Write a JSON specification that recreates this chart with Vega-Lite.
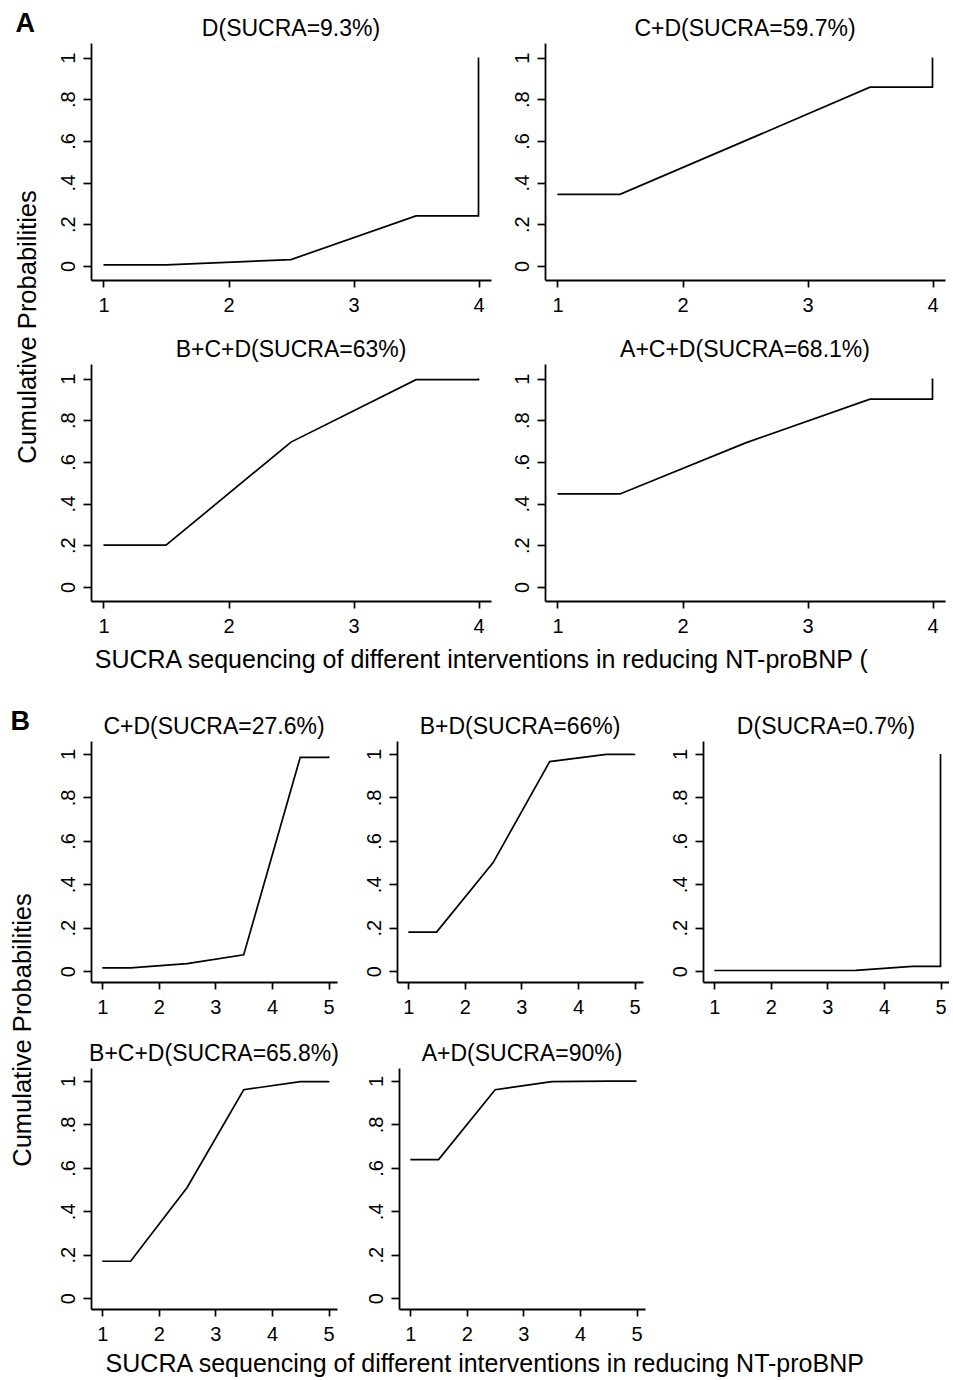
{
  "$schema": "https://vega.github.io/schema/vega-lite/v6.json",
  "padding": {"left": 10, "top": 10, "right": 0, "bottom": 0},
  "config": {
    "font": "Liberation Sans",
    "view": {"stroke": null},
    "axis": {"domainColor": "black", "domainWidth": 1.8, "tickColor": "black", "tickWidth": 1.7, "labelColor": "black", "labelFont": "Liberation Sans", "labelFontSize": 20, "grid": false},
    "title": {"font": "Liberation Sans", "fontSize": 23, "fontWeight": "normal", "color": "black"},
    "line": {"color": "black", "strokeWidth": 1.7}
  },
  "datasets": {
    "sucra": [
      {"panel": "A1", "step": 1, "rank": 1, "prob": 0.005},
      {"panel": "A1", "step": 2, "rank": 1.5, "prob": 0.005},
      {"panel": "A1", "step": 3, "rank": 2.5, "prob": 0.03},
      {"panel": "A1", "step": 4, "rank": 3.5, "prob": 0.24},
      {"panel": "A1", "step": 5, "rank": 4, "prob": 0.24},
      {"panel": "A1", "step": 6, "rank": 4, "prob": 1},
      {"panel": "A2", "step": 1, "rank": 1, "prob": 0.343},
      {"panel": "A2", "step": 2, "rank": 1.5, "prob": 0.343},
      {"panel": "A2", "step": 3, "rank": 2.5, "prob": 0.6},
      {"panel": "A2", "step": 4, "rank": 3.5, "prob": 0.858},
      {"panel": "A2", "step": 5, "rank": 4, "prob": 0.858},
      {"panel": "A2", "step": 6, "rank": 4, "prob": 1},
      {"panel": "A3", "step": 1, "rank": 1, "prob": 0.2},
      {"panel": "A3", "step": 2, "rank": 1.5, "prob": 0.2},
      {"panel": "A3", "step": 3, "rank": 2.5, "prob": 0.695},
      {"panel": "A3", "step": 4, "rank": 3.5, "prob": 0.995},
      {"panel": "A3", "step": 5, "rank": 4, "prob": 0.995},
      {"panel": "A3", "step": 6, "rank": 4, "prob": 1},
      {"panel": "A4", "step": 1, "rank": 1, "prob": 0.446},
      {"panel": "A4", "step": 2, "rank": 1.5, "prob": 0.446},
      {"panel": "A4", "step": 3, "rank": 2.5, "prob": 0.69},
      {"panel": "A4", "step": 4, "rank": 3.5, "prob": 0.901},
      {"panel": "A4", "step": 5, "rank": 4, "prob": 0.901},
      {"panel": "A4", "step": 6, "rank": 4, "prob": 1},
      {"panel": "B1", "step": 1, "rank": 1, "prob": 0.015},
      {"panel": "B1", "step": 2, "rank": 1.5, "prob": 0.015},
      {"panel": "B1", "step": 3, "rank": 2.5, "prob": 0.035},
      {"panel": "B1", "step": 4, "rank": 3.5, "prob": 0.075},
      {"panel": "B1", "step": 5, "rank": 4.5, "prob": 0.985},
      {"panel": "B1", "step": 6, "rank": 5, "prob": 0.985},
      {"panel": "B1", "step": 7, "rank": 5, "prob": 0.99},
      {"panel": "B2", "step": 1, "rank": 1, "prob": 0.18},
      {"panel": "B2", "step": 2, "rank": 1.5, "prob": 0.18},
      {"panel": "B2", "step": 3, "rank": 2.5, "prob": 0.5},
      {"panel": "B2", "step": 4, "rank": 3.5, "prob": 0.965},
      {"panel": "B2", "step": 5, "rank": 4.5, "prob": 0.998},
      {"panel": "B2", "step": 6, "rank": 5, "prob": 0.998},
      {"panel": "B2", "step": 7, "rank": 5, "prob": 1},
      {"panel": "B3", "step": 1, "rank": 1, "prob": 0.003},
      {"panel": "B3", "step": 2, "rank": 1.5, "prob": 0.003},
      {"panel": "B3", "step": 3, "rank": 2.5, "prob": 0.003},
      {"panel": "B3", "step": 4, "rank": 3.5, "prob": 0.004},
      {"panel": "B3", "step": 5, "rank": 4.5, "prob": 0.022},
      {"panel": "B3", "step": 6, "rank": 5, "prob": 0.022},
      {"panel": "B3", "step": 7, "rank": 5, "prob": 1},
      {"panel": "B4", "step": 1, "rank": 1, "prob": 0.17},
      {"panel": "B4", "step": 2, "rank": 1.5, "prob": 0.17},
      {"panel": "B4", "step": 3, "rank": 2.5, "prob": 0.51},
      {"panel": "B4", "step": 4, "rank": 3.5, "prob": 0.96},
      {"panel": "B4", "step": 5, "rank": 4.5, "prob": 0.997},
      {"panel": "B4", "step": 6, "rank": 5, "prob": 0.997},
      {"panel": "B4", "step": 7, "rank": 5, "prob": 1},
      {"panel": "B5", "step": 1, "rank": 1, "prob": 0.638},
      {"panel": "B5", "step": 2, "rank": 1.5, "prob": 0.638},
      {"panel": "B5", "step": 3, "rank": 2.5, "prob": 0.96},
      {"panel": "B5", "step": 4, "rank": 3.5, "prob": 0.997},
      {"panel": "B5", "step": 5, "rank": 4.5, "prob": 1},
      {"panel": "B5", "step": 6, "rank": 5, "prob": 1}
    ]
  },
  "vconcat": [
    {
      "title": {"text": "A", "anchor": "start", "fontSize": 27, "fontWeight": "bold", "offset": -20},
      "vconcat": [{
        "title": {"text": "SUCRA sequencing of different interventions in reducing NT-proBNP (", "orient": "bottom", "anchor": "middle", "fontSize": 25, "offset": 12, "dx": 1},
        "vconcat": [{
          "title": {"text": "Cumulative Probabilities", "orient": "left", "anchor": "middle", "fontSize": 25.5, "offset": 17},
          "spacing": 24,
          "vconcat": [
            {"spacing": 20, "hconcat": [
              {"title": {"text": "D(SUCRA=9.3%)", "frame": "group", "offset": 2}, "width": 400, "height": 237,
               "data": {"name": "sucra"}, "transform": [{"filter": "datum.panel === 'A1'"}], "mark": "line",
               "encoding": {
                 "x": {"field": "rank", "type": "quantitative", "scale": {"domain": [0.9, 4.1], "nice": false, "zero": false}, "axis": {"values": [1, 2, 3, 4], "tickSize": 7, "labelPadding": 8, "title": null}},
                 "y": {"field": "prob", "type": "quantitative", "scale": {"domain": [-0.068, 1.07], "nice": false, "zero": false}, "axis": {"values": [0, 0.2, 0.4, 0.6, 0.8, 1], "labelAngle": -90, "tickSize": 8, "labelPadding": 5, "title": null, "labelExpr": "datum.value == 0 ? '0' : datum.value == 1 ? '1' : '.' + round(datum.value * 10)"}},
                 "order": {"field": "step"}}},
              {"title": {"text": "C+D(SUCRA=59.7%)", "frame": "group", "offset": 2}, "width": 400, "height": 237,
               "data": {"name": "sucra"}, "transform": [{"filter": "datum.panel === 'A2'"}], "mark": "line",
               "encoding": {
                 "x": {"field": "rank", "type": "quantitative", "scale": {"domain": [0.9, 4.1], "nice": false, "zero": false}, "axis": {"values": [1, 2, 3, 4], "tickSize": 7, "labelPadding": 8, "title": null}},
                 "y": {"field": "prob", "type": "quantitative", "scale": {"domain": [-0.068, 1.07], "nice": false, "zero": false}, "axis": {"values": [0, 0.2, 0.4, 0.6, 0.8, 1], "labelAngle": -90, "tickSize": 8, "labelPadding": 5, "title": null, "labelExpr": "datum.value == 0 ? '0' : datum.value == 1 ? '1' : '.' + round(datum.value * 10)"}},
                 "order": {"field": "step"}}}
            ]},
            {"spacing": 20, "hconcat": [
              {"title": {"text": "B+C+D(SUCRA=63%)", "frame": "group", "offset": 2}, "width": 400, "height": 237,
               "data": {"name": "sucra"}, "transform": [{"filter": "datum.panel === 'A3'"}], "mark": "line",
               "encoding": {
                 "x": {"field": "rank", "type": "quantitative", "scale": {"domain": [0.9, 4.1], "nice": false, "zero": false}, "axis": {"values": [1, 2, 3, 4], "tickSize": 7, "labelPadding": 8, "title": null}},
                 "y": {"field": "prob", "type": "quantitative", "scale": {"domain": [-0.068, 1.07], "nice": false, "zero": false}, "axis": {"values": [0, 0.2, 0.4, 0.6, 0.8, 1], "labelAngle": -90, "tickSize": 8, "labelPadding": 5, "title": null, "labelExpr": "datum.value == 0 ? '0' : datum.value == 1 ? '1' : '.' + round(datum.value * 10)"}},
                 "order": {"field": "step"}}},
              {"title": {"text": "A+C+D(SUCRA=68.1%)", "frame": "group", "offset": 2}, "width": 400, "height": 237,
               "data": {"name": "sucra"}, "transform": [{"filter": "datum.panel === 'A4'"}], "mark": "line",
               "encoding": {
                 "x": {"field": "rank", "type": "quantitative", "scale": {"domain": [0.9, 4.1], "nice": false, "zero": false}, "axis": {"values": [1, 2, 3, 4], "tickSize": 7, "labelPadding": 8, "title": null}},
                 "y": {"field": "prob", "type": "quantitative", "scale": {"domain": [-0.068, 1.07], "nice": false, "zero": false}, "axis": {"values": [0, 0.2, 0.4, 0.6, 0.8, 1], "labelAngle": -90, "tickSize": 8, "labelPadding": 5, "title": null, "labelExpr": "datum.value == 0 ? '0' : datum.value == 1 ? '1' : '.' + round(datum.value * 10)"}},
                 "order": {"field": "step"}}}
            ]}
          ]
        }]
      }]
    },
    {
      "title": {"text": "B", "anchor": "start", "fontSize": 27, "fontWeight": "bold", "offset": -20},
      "vconcat": [{
        "title": {"text": "SUCRA sequencing of different interventions in reducing NT-proBNP", "orient": "bottom", "anchor": "middle", "fontSize": 25, "offset": 8, "dx": 5},
        "vconcat": [{
          "title": {"text": "Cumulative Probabilities", "orient": "left", "anchor": "middle", "fontSize": 25.5, "offset": 22},
          "spacing": 26,
          "vconcat": [
            {"spacing": 27, "hconcat": [
              {"title": {"text": "C+D(SUCRA=27.6%)", "frame": "group", "offset": 2}, "width": 246, "height": 241,
               "data": {"name": "sucra"}, "transform": [{"filter": "datum.panel === 'B1'"}], "mark": "line",
               "encoding": {
                 "x": {"field": "rank", "type": "quantitative", "scale": {"domain": [0.8, 5.15], "nice": false, "zero": false}, "axis": {"values": [1, 2, 3, 4, 5], "tickSize": 7, "labelPadding": 8, "title": null}},
                 "y": {"field": "prob", "type": "quantitative", "scale": {"domain": [-0.05, 1.06], "nice": false, "zero": false}, "axis": {"values": [0, 0.2, 0.4, 0.6, 0.8, 1], "labelAngle": -90, "tickSize": 8, "labelPadding": 5, "title": null, "labelExpr": "datum.value == 0 ? '0' : datum.value == 1 ? '1' : '.' + round(datum.value * 10)"}},
                 "order": {"field": "step"}}},
              {"title": {"text": "B+D(SUCRA=66%)", "frame": "group", "offset": 2}, "width": 246, "height": 241,
               "data": {"name": "sucra"}, "transform": [{"filter": "datum.panel === 'B2'"}], "mark": "line",
               "encoding": {
                 "x": {"field": "rank", "type": "quantitative", "scale": {"domain": [0.8, 5.15], "nice": false, "zero": false}, "axis": {"values": [1, 2, 3, 4, 5], "tickSize": 7, "labelPadding": 8, "title": null}},
                 "y": {"field": "prob", "type": "quantitative", "scale": {"domain": [-0.05, 1.06], "nice": false, "zero": false}, "axis": {"values": [0, 0.2, 0.4, 0.6, 0.8, 1], "labelAngle": -90, "tickSize": 8, "labelPadding": 5, "title": null, "labelExpr": "datum.value == 0 ? '0' : datum.value == 1 ? '1' : '.' + round(datum.value * 10)"}},
                 "order": {"field": "step"}}},
              {"title": {"text": "D(SUCRA=0.7%)", "frame": "group", "offset": 2}, "width": 246, "height": 241,
               "data": {"name": "sucra"}, "transform": [{"filter": "datum.panel === 'B3'"}], "mark": "line",
               "encoding": {
                 "x": {"field": "rank", "type": "quantitative", "scale": {"domain": [0.8, 5.15], "nice": false, "zero": false}, "axis": {"values": [1, 2, 3, 4, 5], "tickSize": 7, "labelPadding": 8, "title": null}},
                 "y": {"field": "prob", "type": "quantitative", "scale": {"domain": [-0.05, 1.06], "nice": false, "zero": false}, "axis": {"values": [0, 0.2, 0.4, 0.6, 0.8, 1], "labelAngle": -90, "tickSize": 8, "labelPadding": 5, "title": null, "labelExpr": "datum.value == 0 ? '0' : datum.value == 1 ? '1' : '.' + round(datum.value * 10)"}},
                 "order": {"field": "step"}}}
            ]},
            {"spacing": 27, "hconcat": [
              {"title": {"text": "B+C+D(SUCRA=65.8%)", "frame": "group", "offset": 2}, "width": 246, "height": 241,
               "data": {"name": "sucra"}, "transform": [{"filter": "datum.panel === 'B4'"}], "mark": "line",
               "encoding": {
                 "x": {"field": "rank", "type": "quantitative", "scale": {"domain": [0.8, 5.15], "nice": false, "zero": false}, "axis": {"values": [1, 2, 3, 4, 5], "tickSize": 7, "labelPadding": 8, "title": null}},
                 "y": {"field": "prob", "type": "quantitative", "scale": {"domain": [-0.05, 1.06], "nice": false, "zero": false}, "axis": {"values": [0, 0.2, 0.4, 0.6, 0.8, 1], "labelAngle": -90, "tickSize": 8, "labelPadding": 5, "title": null, "labelExpr": "datum.value == 0 ? '0' : datum.value == 1 ? '1' : '.' + round(datum.value * 10)"}},
                 "order": {"field": "step"}}},
              {"title": {"text": "A+D(SUCRA=90%)", "frame": "group", "offset": 2}, "width": 246, "height": 241,
               "data": {"name": "sucra"}, "transform": [{"filter": "datum.panel === 'B5'"}], "mark": "line",
               "encoding": {
                 "x": {"field": "rank", "type": "quantitative", "scale": {"domain": [0.8, 5.15], "nice": false, "zero": false}, "axis": {"values": [1, 2, 3, 4, 5], "tickSize": 7, "labelPadding": 8, "title": null}},
                 "y": {"field": "prob", "type": "quantitative", "scale": {"domain": [-0.05, 1.06], "nice": false, "zero": false}, "axis": {"values": [0, 0.2, 0.4, 0.6, 0.8, 1], "labelAngle": -90, "tickSize": 8, "labelPadding": 5, "title": null, "labelExpr": "datum.value == 0 ? '0' : datum.value == 1 ? '1' : '.' + round(datum.value * 10)"}},
                 "order": {"field": "step"}}}
            ]}
          ]
        }]
      }]
    }
  ],
  "spacing": 35
}
